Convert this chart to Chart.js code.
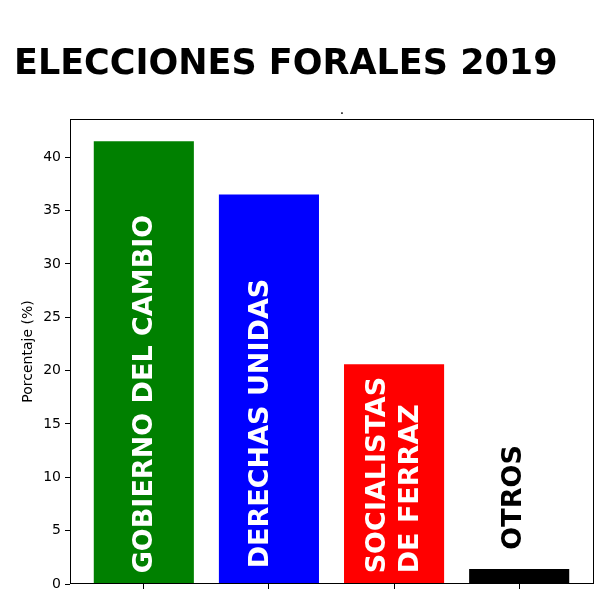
<!DOCTYPE html>
<html><head><meta charset="utf-8">
<script src="https://cdn.jsdelivr.net/npm/chart.js@4"></script>
<style>html,body{margin:0;padding:0;background:#fff}#wrap{width:600px;height:600px}</style>
</head><body><div id="wrap"><canvas id="c" width="600" height="600"></canvas></div>
<script>
const categories = ["GOBIERNO DEL CAMBIO", "DERECHAS UNIDAS", "SOCIALISTAS\nDE FERRAZ", "OTROS"];
const values = [41.5, 36.5, 20.6, 1.4];
const barColors = ["#008000", "#0000ff", "#ff0000", "#000000"];
const labelColors = ["#ffffff", "#ffffff", "#ffffff", "#000000"];
const yTicks = [0, 5, 10, 15, 20, 25, 30, 35, 40];
const chartTitle = "ELECCIONES FORALES 2019";
const axesTitle = ".";
const yLabel = "Porcentaje (%)";

const FONT = "'DejaVu Sans', sans-serif";

const decorPlugin = {
  id: 'decor',
  afterDatasetsDraw(chart) {
    const ctx = chart.ctx;
    const y = chart.scales.y;
    const meta = chart.getDatasetMeta(0);
    // small pixel nudges of the in-bar label placement (style only)
    const nudge = [[1.5, 0], [-7.5, -5], [0, 0], [-5.5, 2]];
    meta.data.forEach((bar, i) => {
      const anchor = values[i] > 5 ? 1 : values[i] + 2;
      const py = y.getPixelForValue(anchor) + nudge[i][1];
      const lines = categories[i].split('\n');
      const lh = 33;
      ctx.save();
      ctx.translate(bar.x + nudge[i][0], py);
      ctx.rotate(-Math.PI / 2);
      ctx.fillStyle = labelColors[i];
      ctx.font = "bold 27px " + FONT;
      ctx.textAlign = 'left';
      ctx.textBaseline = 'middle';
      lines.forEach((ln, j) => {
        ctx.fillText(ln, 0, (j - (lines.length - 1) / 2) * lh);
      });
      ctx.restore();
    });
  },
  afterDraw(chart) {
    const ctx = chart.ctx;
    const a = chart.chartArea;
    ctx.save();
    ctx.strokeStyle = '#000';
    ctx.lineWidth = 1;
    ctx.strokeRect(Math.round(a.left) + 0.5, Math.round(a.top) + 0.5,
                   Math.round(a.right - a.left), Math.round(a.bottom - a.top) - 1);
    ctx.fillStyle = '#000';
    ctx.font = "bold 35px " + FONT;
    ctx.textAlign = 'left';
    ctx.textBaseline = 'alphabetic';
    ctx.fillText(chartTitle, 14, 74);
    ctx.font = "14px " + FONT;
    ctx.textAlign = 'center';
    ctx.fillText(axesTitle, 342, 114);
    ctx.translate(28, (a.top + a.bottom) / 2);
    ctx.rotate(-Math.PI / 2);
    ctx.textBaseline = 'middle';
    ctx.fillText(yLabel, 0, 0);
    ctx.restore();
  }
};

new Chart(document.getElementById('c'), {
  type: 'bar',
  data: {
    datasets: [{
      data: values.map((v, i) => ({ x: i, y: v })),
      backgroundColor: barColors,
      borderWidth: 0,
      barPercentage: 0.8,
      categoryPercentage: 1.0
    }]
  },
  options: {
    responsive: false,
    animation: false,
    devicePixelRatio: 1,
    layout: { padding: { top: 119, right: 7, bottom: 0, left: 0 } },
    plugins: { legend: { display: false }, tooltip: { enabled: false }, title: { display: false } },
    scales: {
      x: {
        type: 'linear',
        offset: false,
        min: -0.59,
        max: 3.59,
        afterBuildTicks: s => { s.ticks = categories.map((c, i) => ({ value: i })); },
        ticks: { display: false },
        grid: { drawOnChartArea: false, tickLength: 5, color: '#000', offset: false },
        border: { display: false },
        afterFit: s => { s.height = 16; }
      },
      y: {
        min: 0,
        max: 43.575,
        afterBuildTicks: s => { s.ticks = yTicks.map(v => ({ value: v })); },
        ticks: { color: '#000', font: { family: FONT, size: 14 }, padding: 4 },
        grid: { drawOnChartArea: false, tickLength: 5, color: '#000' },
        border: { display: false },
        afterFit: s => { s.width = 70; }
      }
    }
  },
  plugins: [decorPlugin]
});
</script>
</body></html>
